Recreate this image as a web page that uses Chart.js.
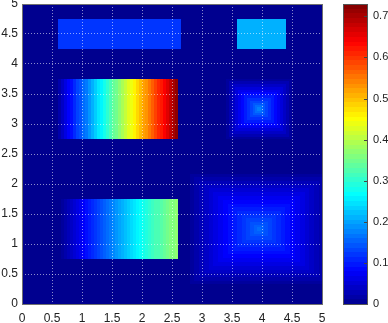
<!DOCTYPE html>
<html>
<head>
<meta charset="utf-8">
<script src="https://cdn.jsdelivr.net/npm/chart.js@4"></script>
<style>
  body { margin: 0; background: #fff; }
  #wrap { position: relative; width: 388px; height: 323px; }
  #map { position: absolute; left: 0; top: 0; }
  #bar { position: absolute; left: 335px; top: 0; }
</style>
</head>
<body>
<div id="wrap">
  <canvas id="map" width="335" height="323"></canvas>
  <canvas id="bar" width="53" height="323"></canvas>
</div>
<script>
// colour range of the map / colorbar
var cMin = 0;
var cMax = 0.73;
var backgroundValue = 0;

// flat blocks at the top: [x0, x1, y0, y1]
var flatX0 = [0.6, 3.575];
var flatX1 = [2.65, 4.4];
var flatY0 = [4.25, 4.25];
var flatY1 = [4.75, 4.75];
var flatValues = [0.12, 0.21];

// column edges shared by the two gradient bands
var bandEdges = [0.6, 0.65, 0.7, 0.75, 0.8, 0.85, 0.9, 0.95, 1, 1.05, 1.1, 1.15, 1.2, 1.25, 1.3,
    1.35, 1.4, 1.45, 1.5, 1.55, 1.6, 1.65, 1.7, 1.75, 1.8, 1.85, 1.9, 1.95, 2, 2.05, 2.1,
    2.15, 2.2, 2.25, 2.3, 2.35, 2.4, 2.45, 2.5, 2.55, 2.6];

// upper band (y 2.75 - 3.75)
var upperBandY = [2.75, 3.75];
var upperBandValues = [0.02, 0.04, 0.06, 0.08, 0.09, 0.11, 0.13, 0.14, 0.16, 0.17, 0.19, 0.21,
    0.23, 0.25, 0.26, 0.28, 0.30, 0.32, 0.34, 0.35, 0.37, 0.39, 0.41, 0.43, 0.44, 0.46, 0.48,
    0.50, 0.52, 0.53, 0.55, 0.57, 0.59, 0.61, 0.62, 0.64, 0.66, 0.68, 0.70, 0.72];

// lower band (y 0.75 - 1.75)
var lowerBandY = [0.75, 1.75];
var lowerBandValues = [0.00, 0.01, 0.02, 0.03, 0.04, 0.05, 0.06, 0.07, 0.08, 0.09, 0.10, 0.11,
    0.12, 0.13, 0.14, 0.15, 0.16, 0.17, 0.18, 0.19, 0.20, 0.21, 0.22, 0.23, 0.24, 0.25, 0.26,
    0.27, 0.28, 0.29, 0.30, 0.31, 0.32, 0.32, 0.33, 0.34, 0.35, 0.36, 0.36, 0.37];

// blob around (3.95, 3.25), nested rings outside -> inside
var blobACenter = [3.95, 3.25];
var blobAHalfX = [0.55, 0.5, 0.45, 0.4, 0.35, 0.3, 0.25, 0.2, 0.15, 0.1, 0.06, 0.03];
var blobAHalfY = [0.5, 0.46, 0.41, 0.37, 0.32, 0.28, 0.23, 0.19, 0.14, 0.1, 0.06, 0.03];
var blobAValues = [0.01, 0.025, 0.04, 0.055, 0.07, 0.085, 0.1, 0.115, 0.13, 0.145, 0.16, 0.175];

// blob around (3.95, 1.25)
var blobBCenter = [3.95, 1.25];
var blobBHalfX = [1.15, 1.08, 1.0, 0.92, 0.84, 0.76, 0.68, 0.6, 0.52, 0.44, 0.36, 0.29, 0.22, 0.15, 0.09, 0.04];
var blobBHalfY = [0.92, 0.86, 0.8, 0.74, 0.68, 0.61, 0.55, 0.48, 0.42, 0.36, 0.3, 0.24, 0.18, 0.12, 0.075, 0.035];
var blobBValues = [0.01, 0.02, 0.03, 0.04, 0.05, 0.06, 0.07, 0.08, 0.09, 0.10, 0.11, 0.12, 0.13, 0.14, 0.15, 0.16];

// axis ticks
var axisTicks = [0, 0.5, 1, 1.5, 2, 2.5, 3, 3.5, 4, 4.5, 5];
var barTicks = [0, 0.1, 0.2, 0.3, 0.4, 0.5, 0.6, 0.7];

var textColor = '#222';
var gridColor = 'rgba(255,255,255,0.55)';
var fontFamily = "'Liberation Sans', Arial, Helvetica, sans-serif";

// matlab style jet(64)
function jet( v ){
    var t = Math.min(1, Math.max(0, (v - cMin) / (cMax - cMin))) * 63 / 64 + 1 / 64;
    var f = function( c ){
        return Math.round(255 * Math.min(1, Math.max(0, 1.5 - Math.abs(4 * t - c))));
    };
    return 'rgb(' + f(3) + ',' + f(2) + ',' + f(1) + ')';
}

function fmt( v ){ return String(+v.toFixed(2)); }

var heatmap = {
    id: 'heatmap',
    beforeDatasetsDraw: function( chart ){
        var ctx = chart.ctx, a = chart.chartArea;
        var xs = chart.scales.x, ys = chart.scales.y;

        function box( x0, x1, y0, y1, v ){
            var px0 = Math.round(xs.getPixelForValue(x0));
            var px1 = Math.round(xs.getPixelForValue(x1));
            var py0 = Math.round(ys.getPixelForValue(y1));
            var py1 = Math.round(ys.getPixelForValue(y0));
            ctx.fillStyle = jet(v);
            ctx.fillRect(px0, py0, px1 - px0, py1 - py0);
        }

        ctx.save();
        ctx.beginPath();
        ctx.rect(a.left, a.top, a.right - a.left, a.bottom - a.top);
        ctx.clip();

        box(0, 5, 0, 5, backgroundValue);

        for( var i = 0; i < flatValues.length; i++ ){
            box(flatX0[i], flatX1[i], flatY0[i], flatY1[i], flatValues[i]);
        }

        for( var i = 0; i < upperBandValues.length; i++ ){
            box(bandEdges[i], bandEdges[i + 1], upperBandY[0], upperBandY[1], upperBandValues[i]);
        }
        for( var i = 0; i < lowerBandValues.length; i++ ){
            box(bandEdges[i], bandEdges[i + 1], lowerBandY[0], lowerBandY[1], lowerBandValues[i]);
        }

        for( var i = 0; i < blobAValues.length; i++ ){
            box(blobACenter[0] - blobAHalfX[i], blobACenter[0] + blobAHalfX[i],
                blobACenter[1] - blobAHalfY[i], blobACenter[1] + blobAHalfY[i], blobAValues[i]);
        }
        for( var i = 0; i < blobBValues.length; i++ ){
            box(blobBCenter[0] - blobBHalfX[i], blobBCenter[0] + blobBHalfX[i],
                blobBCenter[1] - blobBHalfY[i], blobBCenter[1] + blobBHalfY[i], blobBValues[i]);
        }

        ctx.restore();
    },
    afterDraw: function( chart ){
        var ctx = chart.ctx, a = chart.chartArea;
        ctx.save();
        ctx.strokeStyle = '#707070';
        ctx.lineWidth = 1;
        ctx.strokeRect(a.left + 0.5, a.top + 0.5, a.right - a.left, a.bottom - a.top);
        ctx.restore();
    }
};

var colorbar = {
    id: 'colorbar',
    beforeDatasetsDraw: function( chart ){
        var ctx = chart.ctx, a = chart.chartArea, ys = chart.scales.y;
        ctx.save();
        for( var k = 0; k < 64; k++ ){
            var v0 = cMin + (cMax - cMin) * k / 64;
            var v1 = cMin + (cMax - cMin) * (k + 1) / 64;
            var p0 = Math.round(ys.getPixelForValue(v1));
            var p1 = Math.round(ys.getPixelForValue(v0));
            ctx.fillStyle = jet((v0 + v1) / 2);
            ctx.fillRect(a.left, p0, a.right - a.left, p1 - p0);
        }
        ctx.strokeStyle = '#444';
        ctx.lineWidth = 1;
        ctx.beginPath();
        for( var i = 0; i < barTicks.length; i++ ){
            var py = Math.round(ys.getPixelForValue(barTicks[i])) + 0.5;
            ctx.moveTo(a.right - 4, py);
            ctx.lineTo(a.right, py);
        }
        ctx.stroke();
        ctx.strokeStyle = '#555';
        ctx.strokeRect(a.left + 0.5, a.top + 0.5, a.right - a.left - 1, a.bottom - a.top);
        ctx.restore();
    }
};

new Chart(document.getElementById('map'), {
    type: 'scatter',
    data: { datasets: [] },
    options: {
        responsive: false,
        animation: false,
        events: [],
        layout: { padding: { top: 4, right: 13, left: 0, bottom: 0 } },
        plugins: { legend: { display: false }, tooltip: { enabled: false } },
        scales: {
            x: {
                type: 'linear', min: 0, max: 5,
                afterBuildTicks: function( s ){ s.ticks = axisTicks.map(function( v ){ return { value: v }; }); },
                afterFit: function( s ){ s.height = 19; s.paddingLeft = 0; s.paddingRight = 0; },
                ticks: {
                    autoSkip: false, maxRotation: 0, padding: 7, color: textColor,
                    font: { family: fontFamily, size: 12 }, callback: fmt
                },
                grid: { z: 1, color: gridColor, lineWidth: 1, drawTicks: false },
                border: { display: false, dash: [1, 2] }
            },
            y: {
                type: 'linear', min: 0, max: 5,
                afterBuildTicks: function( s ){ s.ticks = axisTicks.map(function( v ){ return { value: v }; }); },
                afterFit: function( s ){ s.width = 22; s.paddingTop = 0; s.paddingBottom = 0; },
                ticks: {
                    autoSkip: false, padding: 4, color: textColor,
                    font: { family: fontFamily, size: 12 }, callback: fmt
                },
                grid: { z: 1, color: gridColor, lineWidth: 1, drawTicks: false },
                border: { display: false, dash: [1, 2] }
            }
        }
    },
    plugins: [heatmap]
});

new Chart(document.getElementById('bar'), {
    type: 'scatter',
    data: { datasets: [] },
    options: {
        responsive: false,
        animation: false,
        events: [],
        layout: { padding: { top: 4, right: 0, left: 8, bottom: 19 } },
        plugins: { legend: { display: false }, tooltip: { enabled: false } },
        scales: {
            x: { display: false, min: 0, max: 1 },
            y: {
                type: 'linear', position: 'right', min: cMin, max: cMax,
                afterBuildTicks: function( s ){ s.ticks = barTicks.map(function( v ){ return { value: v }; }); },
                afterFit: function( s ){ s.width = 20; s.paddingTop = 0; s.paddingBottom = 0; },
                ticks: {
                    autoSkip: false, padding: 5, color: textColor,
                    font: { family: fontFamily, size: 11 }, callback: fmt
                },
                grid: { display: false, drawTicks: false },
                border: { display: false }
            }
        }
    },
    plugins: [colorbar]
});
</script>
</body>
</html>
